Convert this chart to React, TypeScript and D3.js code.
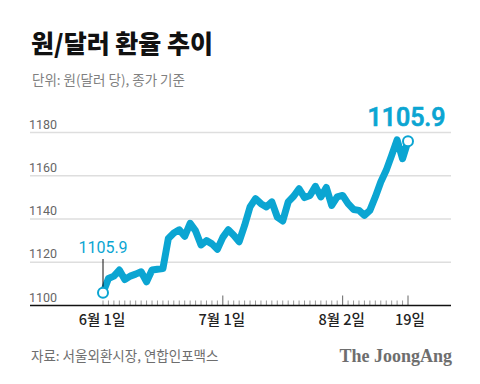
import React from "react";
import * as d3 from "d3";

const dates: string[] = [
  "2021-06-01","2021-06-02","2021-06-03","2021-06-04","2021-06-07","2021-06-08","2021-06-09","2021-06-10","2021-06-11",
  "2021-06-14","2021-06-15","2021-06-16","2021-06-17","2021-06-18","2021-06-21","2021-06-22","2021-06-23","2021-06-24",
  "2021-06-25","2021-06-28","2021-06-29","2021-06-30",
  "2021-07-01","2021-07-02","2021-07-05","2021-07-06","2021-07-07","2021-07-08","2021-07-09","2021-07-12","2021-07-13",
  "2021-07-14","2021-07-15","2021-07-16","2021-07-19","2021-07-20","2021-07-21","2021-07-22","2021-07-23","2021-07-26",
  "2021-07-27","2021-07-28","2021-07-29","2021-07-30",
  "2021-08-02","2021-08-03","2021-08-04","2021-08-05","2021-08-06","2021-08-09","2021-08-10","2021-08-11","2021-08-12",
  "2021-08-13","2021-08-17","2021-08-18","2021-08-19",
];

const rates: number[] = [
  1105.9, 1112.5, 1113.6, 1116.4, 1112.0, 1113.6, 1114.5, 1115.6, 1111.0, 1116.4, 1116.8, 1117.1,
  1131.0, 1133.5, 1135.0, 1132.0, 1138.0, 1134.5, 1128.0, 1130.0, 1128.5, 1126.0, 1131.5,
  1135.0, 1132.5, 1129.5, 1137.0, 1145.6, 1149.4, 1147.1, 1145.6, 1147.9, 1140.9, 1139.1,
  1147.9, 1150.5, 1154.0, 1149.9, 1150.9, 1155.1, 1150.2, 1154.6, 1146.3, 1150.2, 1150.9,
  1147.1, 1144.4, 1144.0, 1141.7, 1144.0, 1150.2, 1157.1, 1162.5, 1169.4, 1176.6, 1167.9, 1176.0,
];

const yTicks: number[] = [1100, 1120, 1140, 1160, 1180];
const xLabelDates: string[] = ["2021-06-01", "2021-07-01", "2021-08-02", "2021-08-19"];
const xLabelTexts: string[] = ["6월 1일", "7월 1일", "8월 2일", "19일"];
const startLabel = "1105.9";
const endLabel = "1105.9";

const title = "원/달러 환율 추이";
const subtitle = "단위: 원(달러 당), 종가 기준";
const source = "자료: 서울외환시장, 연합인포맥스";
const brand = "The JoongAng";

const BLUE = "#0ba5d2";
const KR = "'Noto Sans CJK KR', 'Noto Sans', sans-serif";
const NUM = "Roboto, 'Liberation Sans', Arial, sans-serif";

export default function App() {
  const x = d3.scalePoint<string>().domain(dates).range([103, 408]);
  const y = d3.scaleLinear().domain([1100, 1180]).range([305.5, 132.5]);
  const line = d3
    .line<number>()
    .x((_, i) => x(dates[i]) as number)
    .y((d) => y(d));
  const path = line(rates) || "";
  const first = { x: x(dates[0]) as number, y: y(rates[0]) };
  const lastI = rates.length - 1;
  const last = { x: x(dates[lastI]) as number, y: y(rates[lastI]) };
  const gridLeft = 30;
  const gridRight = 451;

  return (
    <svg
      width={480}
      height={384}
      style={{ position: "absolute", left: 0, top: 0, background: "#fff" }}
    >
      <rect x={0} y={0} width={480} height={384} fill="#fff" />
      <text x={31} y={52.5} fontFamily={KR} fontWeight={900} fontSize={25} fill="#111">
        {title}
      </text>
      <text x={32} y={85} fontFamily={KR} fontSize={13.5} fill="#808080">
        {subtitle}
      </text>

      {yTicks.map((t) => (
        <g key={t}>
          {t !== 1100 && (
            <line x1={gridLeft} x2={gridRight} y1={y(t)} y2={y(t)} stroke="#dedede" strokeWidth={1.5} />
          )}
          <text x={29} y={y(t) - 4} fontFamily={NUM} fontSize={12.5} fill="#666">
            {t}
          </text>
        </g>
      ))}

      {dates.map((d) => {
        const major = xLabelDates.includes(d) && d !== dates[0];
        return (
          <line
            key={d}
            x1={x(d)}
            x2={x(d)}
            y1={y(1100)}
            y2={y(1100) - (major ? 10 : 5)}
            stroke={major ? "#666" : "#999"}
            strokeWidth={1}
          />
        );
      })}
      <line x1={gridLeft} x2={gridRight} y1={y(1100)} y2={y(1100)} stroke="#111" strokeWidth={1.5} />

      {xLabelDates.map((d, i) => (
        <text
          key={d}
          x={(x(d) as number) + (i === 3 ? 2 : -1)}
          y={325}
          textAnchor="middle"
          fontFamily={KR}
          fontWeight={500}
          fontSize={14.5}
          fill="#222"
        >
          {xLabelTexts[i]}
        </text>
      ))}

      <path
        d={path}
        fill="none"
        stroke={BLUE}
        strokeWidth={7}
        strokeLinejoin="round"
        strokeLinecap="round"
      />

      <line x1={first.x} x2={first.x} y1={first.y - 6} y2={259} stroke="#111" strokeWidth={1} />
      <circle cx={first.x} cy={first.y} r={5} fill="#fff" stroke={BLUE} strokeWidth={2} />
      <text x={first.x} y={253} textAnchor="middle" fontFamily={NUM} fontSize={16} fill={BLUE}>
        {startLabel}
      </text>

      <circle cx={last.x} cy={last.y} r={5} fill="#fff" stroke={BLUE} strokeWidth={2} />
      <text
        x={last.x - 1.5}
        y={126}
        textAnchor="middle"
        fontFamily={NUM}
        fontWeight={500}
        fontSize={25}
        fill={BLUE}
        stroke={BLUE}
        strokeWidth={0.7}
      >
        {endLabel}
      </text>

      <text x={31} y={361} fontFamily={KR} fontSize={13.5} fill="#6e6e6e">
        {source}
      </text>
      <text
        x={452}
        y={362}
        textAnchor="end"
        fontFamily="'Liberation Serif', 'DejaVu Serif', serif"
        fontWeight={700}
        fontSize={18}
        fill="#6e6e6e"
      >
        {brand}
      </text>
    </svg>
  );
}
